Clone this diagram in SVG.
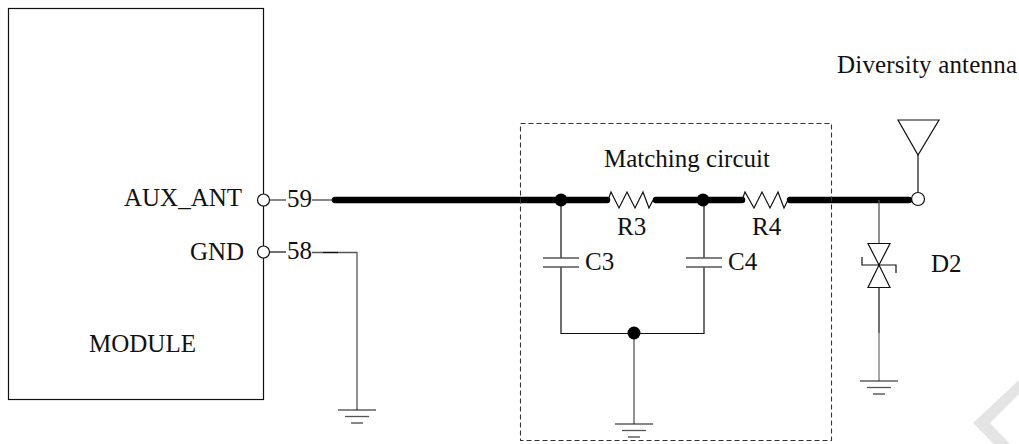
<svg xmlns="http://www.w3.org/2000/svg" width="1019" height="444" viewBox="0 0 1019 444">
<style>
text{font-family:"Liberation Serif","Times New Roman",serif;font-size:25px;fill:#111}
.l{fill:none;stroke:#111;stroke-width:1.2}
.g{fill:none;stroke:#555;stroke-width:1.3}
.t{fill:none;stroke:#000;stroke-width:6.5;stroke-linecap:round}
.d{fill:#000}
.o{fill:#fff;stroke:#111;stroke-width:1.2}
</style>
<defs>
<g id="gnd"><path class="l" d="M-19 0H19M-6 13H6"/><path class="g" d="M-12 6.500H12"/></g>
<g id="cap" class="g"><path d="M-18 0H18M-18 9H18"/></g>
</defs>
<path id="watermark" d="M1019 380L973 423L994 444H1010L990 423L1019 394Z" fill="#e4e4e4"/>
<g id="module"><rect x="8.500" y="8.500" width="255" height="391" class="l"/>
<text x="89" y="352">MODULE</text></g>
<g id="connectors">
<path class="l" d="M269 200H286M312 200H333"/>
<path class="l" d="M269 252H286"/>
<path class="g" d="M312 252.500H357V410"/>
<path class="l" stroke-width="2" d="M323 252.500H338"/>
<path class="t" d="M335 200H607M656 200H742M790 200H909"/>
<path class="l" d="M608 200L611 192L619 208L627 192L635 208L643 192L649 208L653 200"/>
<path class="l" d="M742 200L745 192L754 208L762 192L770 208L778 192L784 208L788 200"/>
<path class="l" d="M561 200V258M561 267V333.500H704V267M704 258V200"/>
<path class="g" d="M634 333V424"/>
<path class="g" d="M879 200V243"/>
<path class="l" d="M879 288V333"/>
<path class="g" stroke-opacity="0.8" d="M879 333V381"/>
<path class="l" d="M918 155V192"/>
<circle class="d" cx="561" cy="200" r="6.500"/>
<circle class="d" cx="703" cy="200" r="6.500"/>
<circle class="d" cx="634" cy="333" r="6.500"/>
</g>
<g id="pin59"><circle class="o" cx="263.500" cy="200" r="6"/><text x="287" y="207">59</text></g>
<g id="pin58"><circle class="o" cx="263.500" cy="252" r="6"/><text x="287" y="259">58</text></g>
<text x="124" y="206">AUX_ANT</text>
<text x="190" y="260">GND</text>
<g id="c3"><use href="#cap" x="561" y="258"/><text x="585" y="270">C3</text></g>
<g id="c4"><use href="#cap" x="704" y="258"/><text x="728" y="270">C4</text></g>
<g id="r3"><text x="617" y="235">R3</text></g>
<g id="r4"><text x="752" y="235">R4</text></g>
<g id="matching"><rect x="520.500" y="123.500" width="311" height="317" fill="none" stroke="#333" stroke-width="1.1" stroke-dasharray="5 3"/>
<text x="604" y="167">Matching circuit</text></g>
<g id="antenna"><path class="l" d="M898 120H939L918 155Z"/><circle cx="918" cy="199" r="6.500" fill="none" stroke="#111" stroke-width="1.2"/>
<text x="837" y="73" textLength="180">Diversity antenna</text></g>
<g id="d2"><path class="l" d="M868 243.500H890L879 265ZM868 287.500H890L879 265ZM862 257V265H896V273"/><text x="931" y="272">D2</text></g>
<use href="#gnd" x="357" y="410"/>
<use href="#gnd" x="634" y="424"/>
<use href="#gnd" x="879" y="381"/>
</svg>
